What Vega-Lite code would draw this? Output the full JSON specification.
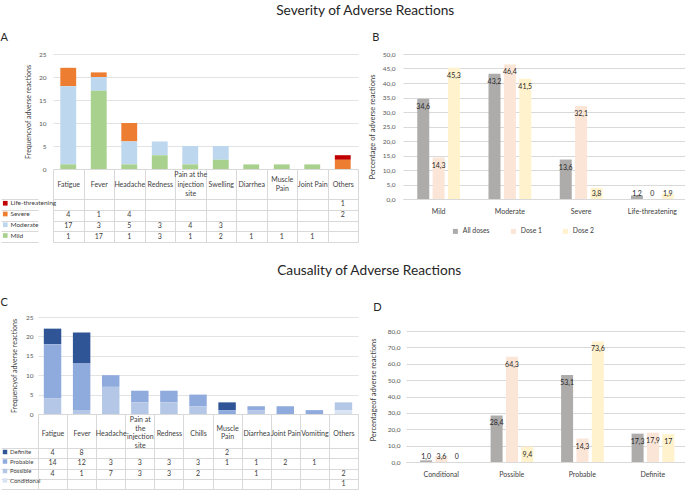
{
  "$schema": "https://vega.github.io/schema/vega-lite/v6.json",
  "padding": {"left": 0, "top": 4, "right": 0, "bottom": 0},
  "background": "white",
  "config": {
    "font": "Lato",
    "locale": {"number": {"decimal": ",", "thousands": ".", "grouping": [3], "currency": ["", " €"]}},
    "view": {"stroke": null},
    "axis": {"labelFont": "Lato", "titleFont": "Lato", "labelColor": "#595959", "titleColor": "#404040", "titleFontWeight": "normal", "gridColor": "#D9D9D9", "domainColor": "#D9D9D9", "tickColor": "#D9D9D9"},
    "title": {"font": "Lato", "fontWeight": "normal", "color": "#262626"},
    "legend": {"labelFont": "Lato", "labelColor": "#404040"}
  },
  "datasets": {
    "sev": [
      {"item": "Fatigue", "grade": "Severe", "count": 4},
      {"item": "Fatigue", "grade": "Moderate", "count": 17},
      {"item": "Fatigue", "grade": "Mild", "count": 1},
      {"item": "Fever", "grade": "Severe", "count": 1},
      {"item": "Fever", "grade": "Moderate", "count": 3},
      {"item": "Fever", "grade": "Mild", "count": 17},
      {"item": "Headache", "grade": "Severe", "count": 4},
      {"item": "Headache", "grade": "Moderate", "count": 5},
      {"item": "Headache", "grade": "Mild", "count": 1},
      {"item": "Redness", "grade": "Moderate", "count": 3},
      {"item": "Redness", "grade": "Mild", "count": 3},
      {"item": "Pain at the injection site", "grade": "Moderate", "count": 4},
      {"item": "Pain at the injection site", "grade": "Mild", "count": 1},
      {"item": "Swelling", "grade": "Moderate", "count": 3},
      {"item": "Swelling", "grade": "Mild", "count": 2},
      {"item": "Diarrhea", "grade": "Mild", "count": 1},
      {"item": "Muscle Pain", "grade": "Mild", "count": 1},
      {"item": "Joint Pain", "grade": "Mild", "count": 1},
      {"item": "Others", "grade": "Life-threatening", "count": 1},
      {"item": "Others", "grade": "Severe", "count": 2}
    ],
    "cau": [
      {"item": "Fatigue", "level": "Definite", "count": 4},
      {"item": "Fatigue", "level": "Probable", "count": 14},
      {"item": "Fatigue", "level": "Possible", "count": 4},
      {"item": "Fever", "level": "Definite", "count": 8},
      {"item": "Fever", "level": "Probable", "count": 12},
      {"item": "Fever", "level": "Possible", "count": 1},
      {"item": "Headache", "level": "Probable", "count": 3},
      {"item": "Headache", "level": "Possible", "count": 7},
      {"item": "Pain at the injection site", "level": "Probable", "count": 3},
      {"item": "Pain at the injection site", "level": "Possible", "count": 3},
      {"item": "Redness", "level": "Probable", "count": 3},
      {"item": "Redness", "level": "Possible", "count": 3},
      {"item": "Chills", "level": "Probable", "count": 3},
      {"item": "Chills", "level": "Possible", "count": 2},
      {"item": "Muscle Pain", "level": "Definite", "count": 2},
      {"item": "Muscle Pain", "level": "Probable", "count": 1},
      {"item": "Diarrhea", "level": "Probable", "count": 1},
      {"item": "Diarrhea", "level": "Possible", "count": 1},
      {"item": "Joint Pain", "level": "Probable", "count": 2},
      {"item": "Vomiting", "level": "Probable", "count": 1},
      {"item": "Others", "level": "Possible", "count": 2},
      {"item": "Others", "level": "Conditional", "count": 1}
    ],
    "sevpct": [
      {"cat": "Mild", "dose": "All doses", "pct": 34.6, "label": "34,6"},
      {"cat": "Mild", "dose": "Dose 1", "pct": 14.3, "label": "14,3"},
      {"cat": "Mild", "dose": "Dose 2", "pct": 45.3, "label": "45,3"},
      {"cat": "Moderate", "dose": "All doses", "pct": 43.2, "label": "43,2"},
      {"cat": "Moderate", "dose": "Dose 1", "pct": 46.4, "label": "46,4"},
      {"cat": "Moderate", "dose": "Dose 2", "pct": 41.5, "label": "41,5"},
      {"cat": "Severe", "dose": "All doses", "pct": 13.6, "label": "13,6"},
      {"cat": "Severe", "dose": "Dose 1", "pct": 32.1, "label": "32,1"},
      {"cat": "Severe", "dose": "Dose 2", "pct": 3.8, "label": "3,8"},
      {"cat": "Life-threatening", "dose": "All doses", "pct": 1.2, "label": "1,2"},
      {"cat": "Life-threatening", "dose": "Dose 1", "pct": 0, "label": "0"},
      {"cat": "Life-threatening", "dose": "Dose 2", "pct": 1.9, "label": "1,9"}
    ],
    "caupct": [
      {"cat": "Conditional", "dose": "All doses", "pct": 1.0, "label": "1,0"},
      {"cat": "Conditional", "dose": "Dose 1", "pct": 3.6, "label": "3,6"},
      {"cat": "Conditional", "dose": "Dose 2", "pct": 0, "label": "0"},
      {"cat": "Possible", "dose": "All doses", "pct": 28.4, "label": "28,4"},
      {"cat": "Possible", "dose": "Dose 1", "pct": 64.3, "label": "64,3"},
      {"cat": "Possible", "dose": "Dose 2", "pct": 9.4, "label": "9,4"},
      {"cat": "Probable", "dose": "All doses", "pct": 53.1, "label": "53,1"},
      {"cat": "Probable", "dose": "Dose 1", "pct": 14.3, "label": "14,3"},
      {"cat": "Probable", "dose": "Dose 2", "pct": 73.6, "label": "73,6"},
      {"cat": "Definite", "dose": "All doses", "pct": 17.3, "label": "17,3"},
      {"cat": "Definite", "dose": "Dose 1", "pct": 17.9, "label": "17,9"},
      {"cat": "Definite", "dose": "Dose 2", "pct": 17, "label": "17"}
    ]
  },
  "columns": 1,
  "align": "none",
  "spacing": 20,
  "resolve": {"scale": {"color": "independent"}, "legend": {"color": "independent"}},
  "concat": [
    {
      "title": {"text": "Severity of Adverse Reactions", "fontSize": 13.7, "anchor": "middle", "dx": 21, "offset": 14},
      "spacing": 9,
      "resolve": {"scale": {"color": "independent"}, "legend": {"color": "independent"}},
      "hconcat": [
        {
          "title": {"text": "A", "anchor": "start", "frame": "bounds", "fontSize": 11, "offset": 8},
          "bounds": "flush",
          "spacing": 30,
          "resolve": {"scale": {"color": "independent", "x": "independent", "y": "independent"}, "legend": {"color": "independent"}},
          "vconcat": [
            {
              "width": 320, "height": 115,
              "data": {"name": "sev"},
              "transform": [{"calculate": "indexof(['Mild','Moderate','Severe','Life-threatening'], datum.grade)", "as": "k"}],
              "mark": {"type": "bar", "width": {"band": 0.52}},
              "encoding": {
                "x": {"field": "item", "type": "nominal",
                  "scale": {"domain": ["Fatigue", "Fever", "Headache", "Redness", "Pain at the injection site", "Swelling", "Diarrhea", "Muscle Pain", "Joint Pain", "Others"], "range": [15, 320], "paddingInner": 0, "paddingOuter": 0},
                  "axis": {"title": null, "labelAngle": 0, "tickBand": "extent", "ticks": true, "tickSize": 30, "labelBaseline": "middle", "labelFontSize": 7, "labelColor": "#404040", "labelLineHeight": 9.5, "labelOverlap": false,
                    "labelPadding": {"condition": [{"test": "datum.value == 'Pain at the injection site'", "value": -24.5}, {"test": "datum.value == 'Muscle Pain'", "value": -19.75}], "value": -15},
                    "labelExpr": "datum.value == 'Pain at the injection site' ? ['Pain at the', 'injection', 'site'] : datum.value == 'Muscle Pain' ? ['Muscle', 'Pain'] : datum.value"}},
                "y": {"field": "count", "type": "quantitative", "scale": {"domain": [0, 25]},
                  "axis": {"values": [0, 5, 10, 15, 20, 25], "offset": -15, "title": "Frequencyof adverse reactions", "titleFontSize": 7, "labelFontSize": 6.5, "domain": false, "ticks": false, "minExtent": 0, "labelPadding": 7, "titlePadding": 7, "gridColor": "#E3E3E3"}},
                "color": {"field": "grade", "type": "nominal", "scale": {"domain": ["Life-threatening", "Severe", "Moderate", "Mild"], "range": ["#C00000", "#ED7D31", "#BDD7EE", "#A9D18E"]}, "legend": null},
                "order": {"field": "k", "type": "quantitative"}
              }
            },
            {
              "width": 320, "height": 43,
              "data": {"name": "sev"},
              "layer": [
                {
                  "mark": {"type": "text", "fontSize": 7, "color": "#404040"},
                  "encoding": {
                    "x": {"field": "item", "type": "nominal",
                      "scale": {"domain": ["Fatigue", "Fever", "Headache", "Redness", "Pain at the injection site", "Swelling", "Diarrhea", "Muscle Pain", "Joint Pain", "Others"], "range": [15, 320], "paddingInner": 0, "paddingOuter": 0},
                      "axis": {"title": null, "labels": false, "ticks": false, "domain": false, "grid": true, "tickBand": "extent"}},
                    "y": {"field": "grade", "type": "nominal",
                      "scale": {"domain": ["Life-threatening", "Severe", "Moderate", "Mild"], "paddingInner": 0, "paddingOuter": 0},
                      "axis": {"title": null, "labels": false, "ticks": true, "tickSize": 37, "domain": false, "grid": true, "tickBand": "extent"}},
                    "text": {"field": "count", "type": "quantitative"}
                  }
                },
                {
                  "mark": {"type": "square", "opacity": 0},
                  "encoding": {
                    "color": {"field": "grade", "type": "nominal",
                      "scale": {"domain": ["Life-threatening", "Severe", "Moderate", "Mild"], "range": ["#C00000", "#ED7D31", "#BDD7EE", "#A9D18E"]},
                      "legend": {"orient": "none", "legendX": -36, "legendY": 1, "title": null, "direction": "vertical", "symbolType": "square", "symbolSize": 22, "symbolOpacity": 1, "symbolStrokeWidth": 0, "labelFontSize": 6.5, "rowPadding": 3.75, "labelOffset": 2, "padding": 0}}
                  }
                }
              ]
            }
          ]
        },
        {
          "title": {"text": "B", "anchor": "start", "frame": "bounds", "fontSize": 11, "offset": 8, "dx": 4},
          "width": 285, "height": 145,
          "data": {"name": "sevpct"},
          "encoding": {
            "x": {"field": "cat", "type": "nominal", "scale": {"domain": ["Mild", "Moderate", "Severe", "Life-threatening"], "paddingInner": 0.4, "paddingOuter": 0.2},
              "axis": {"title": null, "labelAngle": 0, "ticks": false, "domain": true, "labelPadding": 8, "labelFontSize": 7, "labelColor": "#404040"}},
            "xOffset": {"field": "dose", "type": "nominal", "scale": {"domain": ["All doses", "Dose 1", "Dose 2"], "paddingInner": 0.22, "paddingOuter": 0}},
            "y": {"field": "pct", "type": "quantitative", "scale": {"domain": [0, 50]}, "title": "Percentage of adverse reactions",
              "axis": {"values": [0, 5, 10, 15, 20, 25, 30, 35, 40, 45, 50], "format": ".1f", "titleFontSize": 7.5, "labelFontSize": 6.5, "domain": false, "ticks": false, "minExtent": 0, "labelPadding": 8, "titlePadding": 6}}
          },
          "layer": [
            {
              "mark": {"type": "bar"},
              "encoding": {
                "color": {"field": "dose", "type": "nominal", "scale": {"domain": ["All doses", "Dose 1", "Dose 2"], "range": ["#AEABAB", "#FBE5D6", "#FFF2CC"]},
                  "legend": {"orient": "none", "legendX": 49, "legendY": 174, "direction": "horizontal", "gridAlign": "none", "title": null, "symbolType": "square", "symbolSize": 25, "symbolStrokeWidth": 0, "labelFontSize": 6.8, "columnPadding": 20, "labelOffset": 4, "padding": 0}}
              }
            },
            {
              "transform": [{"filter": "datum.pct >= 5"}],
              "mark": {"type": "text", "baseline": "top", "dy": 4, "fontSize": 7, "color": "#262626"},
              "encoding": {"text": {"field": "label"}}
            },
            {
              "transform": [{"filter": "datum.pct < 5"}],
              "mark": {"type": "text", "baseline": "bottom", "dy": -2, "fontSize": 7, "color": "#262626"},
              "encoding": {"y": {"datum": 0, "type": "quantitative", "title": "Percentage of adverse reactions"}, "text": {"field": "label"}}
            }
          ]
        }
      ]
    },
    {
      "title": {"text": "Causality of Adverse Reactions", "fontSize": 13.7, "anchor": "middle", "dx": 25, "offset": 19},
      "spacing": 10,
      "resolve": {"scale": {"color": "independent"}, "legend": {"color": "independent"}},
      "hconcat": [
        {
          "title": {"text": "C", "anchor": "start", "frame": "bounds", "fontSize": 11, "offset": 6.5},
          "bounds": "flush",
          "spacing": 34,
          "resolve": {"scale": {"color": "independent", "x": "independent", "y": "independent"}, "legend": {"color": "independent"}},
          "vconcat": [
            {
              "width": 320, "height": 97,
              "data": {"name": "cau"},
              "transform": [{"calculate": "indexof(['Conditional','Possible','Probable','Definite'], datum.level)", "as": "k"}],
              "mark": {"type": "bar", "width": {"band": 0.6}},
              "encoding": {
                "x": {"field": "item", "type": "nominal",
                  "scale": {"domain": ["Fatigue", "Fever", "Headache", "Pain at the injection site", "Redness", "Chills", "Muscle Pain", "Diarrhea", "Joint Pain", "Vomiting", "Others"], "paddingInner": 0, "paddingOuter": 0},
                  "axis": {"title": null, "labelAngle": 0, "tickBand": "extent", "ticks": true, "tickSize": 34, "labelBaseline": "middle", "labelFontSize": 7, "labelColor": "#404040", "labelLineHeight": 8.6, "labelOverlap": false,
                    "labelPadding": {"condition": [{"test": "datum.value == 'Pain at the injection site'", "value": -28.3}, {"test": "datum.value == 'Muscle Pain'", "value": -19.7}], "value": -15},
                    "labelExpr": "datum.value == 'Pain at the injection site' ? ['Pain at', 'the', 'injection', 'site'] : datum.value == 'Muscle Pain' ? ['Muscle', 'Pain'] : datum.value"}},
                "y": {"field": "count", "type": "quantitative", "scale": {"domain": [0, 25]},
                  "axis": {"values": [0, 5, 10, 15, 20, 25], "title": "Frequencyof adverse reactions", "titleFontSize": 7, "labelFontSize": 6.5, "domain": false, "ticks": false, "minExtent": 0, "labelPadding": 5, "titlePadding": 7.5, "gridColor": "#E3E3E3"}},
                "color": {"field": "level", "type": "nominal", "scale": {"domain": ["Definite", "Probable", "Possible", "Conditional"], "range": ["#2F5597", "#8FAADC", "#B4C7E7", "#DAE3F3"]}, "legend": null},
                "order": {"field": "k", "type": "quantitative"}
              }
            },
            {
              "width": 320, "height": 41,
              "data": {"name": "cau"},
              "layer": [
                {
                  "mark": {"type": "text", "fontSize": 7, "color": "#404040"},
                  "encoding": {
                    "x": {"field": "item", "type": "nominal",
                      "scale": {"domain": ["Fatigue", "Fever", "Headache", "Pain at the injection site", "Redness", "Chills", "Muscle Pain", "Diarrhea", "Joint Pain", "Vomiting", "Others"], "paddingInner": 0, "paddingOuter": 0},
                      "axis": {"title": null, "labels": false, "ticks": false, "domain": false, "grid": true, "tickBand": "extent"}},
                    "y": {"field": "level", "type": "nominal",
                      "scale": {"domain": ["Definite", "Probable", "Possible", "Conditional"], "paddingInner": 0, "paddingOuter": 0},
                      "axis": {"title": null, "labels": false, "ticks": true, "tickSize": 37, "domain": false, "grid": true, "tickBand": "extent"}},
                    "text": {"field": "count", "type": "quantitative"}
                  }
                },
                {
                  "mark": {"type": "square", "opacity": 0},
                  "encoding": {
                    "color": {"field": "level", "type": "nominal",
                      "scale": {"domain": ["Definite", "Probable", "Possible", "Conditional"], "range": ["#2F5597", "#8FAADC", "#B4C7E7", "#DAE3F3"]},
                      "legend": {"orient": "none", "legendX": -36, "legendY": 1, "title": null, "direction": "vertical", "symbolType": "square", "symbolSize": 20, "symbolOpacity": 1, "symbolStrokeWidth": 0, "labelFontSize": 6, "rowPadding": 3.5, "labelOffset": 2, "padding": 0}}
                  }
                }
              ]
            }
          ]
        },
        {
          "title": {"text": "D", "anchor": "start", "frame": "bounds", "fontSize": 11, "offset": 4, "dx": 4},
          "width": 282, "height": 145,
          "data": {"name": "caupct"},
          "encoding": {
            "x": {"field": "cat", "type": "nominal", "scale": {"domain": ["Conditional", "Possible", "Probable", "Definite"], "paddingInner": 0.4, "paddingOuter": 0.2},
              "axis": {"title": null, "labelAngle": 0, "ticks": false, "domain": true, "labelPadding": 8, "labelFontSize": 7, "labelColor": "#404040"}},
            "xOffset": {"field": "dose", "type": "nominal", "scale": {"domain": ["All doses", "Dose 1", "Dose 2"], "paddingInner": 0.22, "paddingOuter": 0}},
            "y": {"field": "pct", "type": "quantitative", "scale": {"domain": [0, 88.55]}, "title": "Percentageof adverse reactions",
              "axis": {"values": [0, 10, 20, 30, 40, 50, 60, 70, 80], "format": ".1f", "titleFontSize": 7.5, "labelFontSize": 6.5, "domain": false, "ticks": false, "minExtent": 0, "labelPadding": 6, "titlePadding": 10}}
          },
          "layer": [
            {
              "mark": {"type": "bar"},
              "encoding": {
                "color": {"field": "dose", "type": "nominal", "scale": {"domain": ["All doses", "Dose 1", "Dose 2"], "range": ["#AEABAB", "#FBE5D6", "#FFF2CC"]}, "legend": null}
              }
            },
            {
              "transform": [{"filter": "datum.pct >= 5"}],
              "mark": {"type": "text", "baseline": "top", "dy": 4, "fontSize": 7, "color": "#262626"},
              "encoding": {"text": {"field": "label"}}
            },
            {
              "transform": [{"filter": "datum.pct < 5"}],
              "mark": {"type": "text", "baseline": "bottom", "dy": -2, "fontSize": 7, "color": "#262626"},
              "encoding": {"y": {"datum": 0, "type": "quantitative", "title": "Percentageof adverse reactions"}, "text": {"field": "label"}}
            }
          ]
        }
      ]
    }
  ]
}
